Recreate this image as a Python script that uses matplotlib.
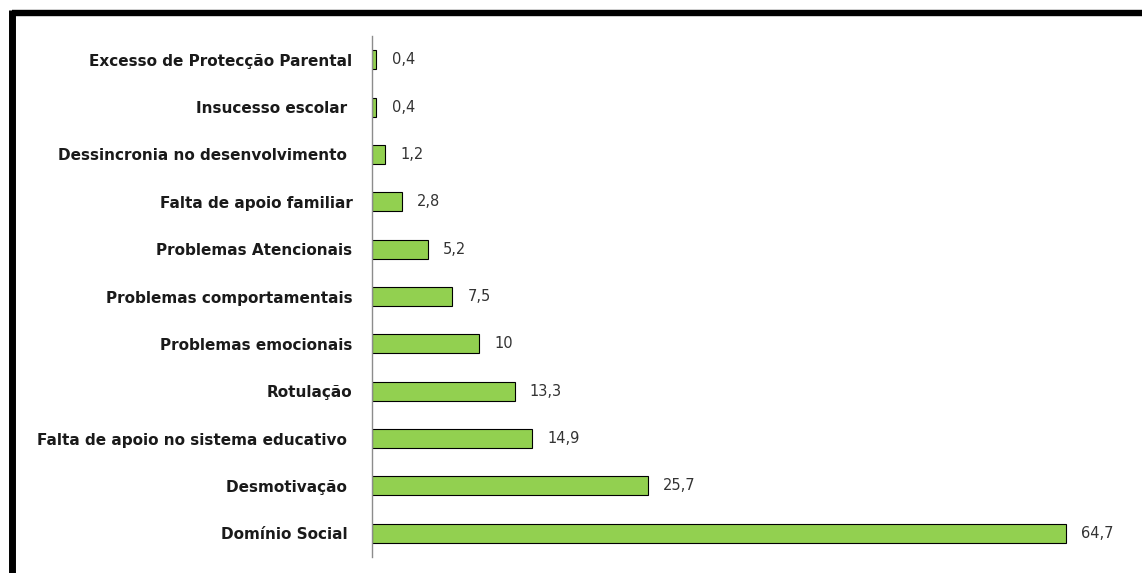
import matplotlib.pyplot as plt
from matplotlib.lines import Line2D

# categories listed bottom to top, as barh draws them
categorias = ["Domínio Social ", "Desmotivação ", "Falta de apoio no sistema educativo ",
              "Rotulação", "Problemas emocionais", "Problemas comportamentais",
              "Problemas Atencionais", "Falta de apoio familiar",
              "Dessincronia no desenvolvimento ", "Insucesso escolar ",
              "Excesso de Protecção Parental"]
valores = [64.7, 25.7, 14.9, 13.3, 10, 7.5, 5.2, 2.8, 1.2, 0.4, 0.4]


def fmt(v):
	# portuguese decimal comma
	return str(v).replace(".", ",")


fig = plt.figure(figsize=(11.42, 5.73), dpi=100)
ax = fig.add_axes([0.3257, 0.028, 0.6577, 0.909])

pos = range(len(categorias))
ax.barh(pos, valores, height=0.4, color="#92D050", edgecolor="black", linewidth=0.8)

for i, v in enumerate(valores):
	ax.annotate(fmt(v), (v, i), xytext=(11, 0), textcoords="offset points",
				va="center", ha="left", fontsize=10.5, color="#333333")

ax.set_xlim(0, 70)
ax.set_ylim(-0.5, len(categorias) - 0.5)
ax.set_yticks(list(pos))
ax.set_yticklabels(categorias, fontsize=11, fontweight="bold", color="#1a1a1a")
ax.tick_params(axis="y", length=0, pad=14)
ax.set_xticks([])

for s in ["top", "right", "bottom"]:
	ax.spines[s].set_visible(False)
ax.spines["left"].set_color("#8c8c8c")
ax.spines["left"].set_linewidth(1)

# thick frame along the top and left edge of the picture
W, H = 1142, 573
fig.add_artist(Line2D([11.5 / W, 1.0], [1 - 13 / H, 1 - 13 / H], transform=fig.transFigure,
					  color="black", linewidth=4.6, solid_capstyle="butt"))
fig.add_artist(Line2D([11.5 / W, 11.5 / W], [1 - 10 / H, 0.0], transform=fig.transFigure,
					  color="black", linewidth=5, solid_capstyle="butt"))

fig.savefig("out.png", dpi=100)
